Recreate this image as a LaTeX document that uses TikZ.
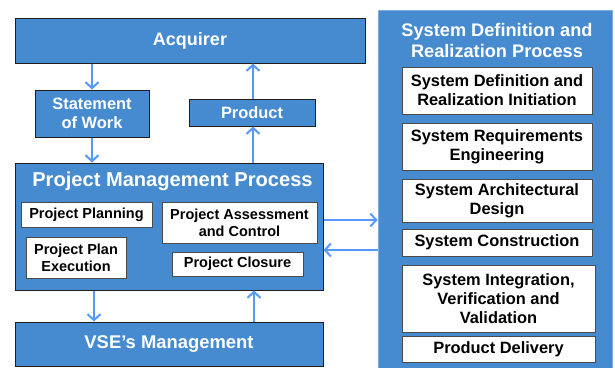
\documentclass[tikz,border=0pt]{standalone}
\usepackage{fontspec}
\setmainfont{Liberation Sans}
\usetikzlibrary{arrows.meta}
\definecolor{boxblue}{RGB}{70,139,208}
\definecolor{arrblue}{RGB}{85,153,255}
\definecolor{edgedark}{RGB}{30,30,30}
\tikzset{
  bluebox/.style={draw=edgedark, line width=1pt, fill=boxblue, text=white, inner sep=0pt, align=center, font=\bfseries\fontsize{18}{20.5}\selectfont},
  midbox/.style={bluebox, font=\bfseries\fontsize{16.4}{19}\selectfont},
  whitebox/.style={draw=edgedark!80, line width=0.8pt, fill=white, text=black, inner sep=0pt, align=center, font=\bfseries\fontsize{16.4}{18.8}\selectfont},
  smallwhite/.style={whitebox, font=\bfseries\fontsize{14.5}{17}\selectfont},
  arr/.style={draw=arrblue, line width=2pt, -{Straight Barb[length=6pt,width=13pt]}},
}
\begin{document}
\begin{tikzpicture}[x=1pt,y=-1pt]
\useasboundingbox (0,0) rectangle (615,367);
% system box
\begin{scope}
\clip (0,0) rectangle (615,367);
\node[fill=boxblue, draw=boxblue!70!white, line width=0.6pt, minimum width=234pt, minimum height=362pt, inner sep=0pt] (sys) at (495,191) {};
\end{scope}
\node[text=white, align=center, font=\bfseries\fontsize{18.2}{21}\selectfont] (systitle) at (497,40) {System Definition and\\Realization Process};
\node[whitebox, minimum width=190pt, minimum height=47pt] (sdri) at (497,90.5) {System Definition and\\Realization Initiation};
\node[whitebox, minimum width=190pt, minimum height=47pt] (sre) at (497,146.5) {System Requirements\\Engineering};
\node[whitebox, minimum width=190pt, minimum height=43pt] (sad) at (497,200.5) {System Architectural\\Design};
\node[whitebox, minimum width=190pt, minimum height=27pt] (sc) at (497,242.5) {System Construction};
\node[whitebox, minimum width=193pt, minimum height=67pt, font=\bfseries\fontsize{16.4}{19.3}\selectfont] (sivv) at (498.5,298.5) {System Integration,\\Verification and\\Validation};
\node[whitebox, minimum width=193pt, minimum height=26pt] (pd) at (498.5,349) {Product Delivery};

% left side
\node[bluebox, minimum width=350pt, minimum height=45pt] (acq) at (190,40.5) {Acquirer};
\node[midbox, minimum width=114pt, minimum height=47pt] (sow) at (92,113.5) {Statement\\of Work};
\node[midbox, minimum width=126pt, minimum height=27pt] (prod) at (252,112.5) {Product};
\node[bluebox, minimum width=308pt, minimum height=127pt] (pmp) at (169,226.5) {};
\node[text=white, font=\bfseries\fontsize{20.1}{22}\selectfont, inner sep=0pt] (pmptitle) at (172.5,181) {Project Management Process};
\node[smallwhite, minimum width=131pt, minimum height=25pt] (pp) at (86.5,214.5) {Project Planning};
\node[smallwhite, minimum width=100pt, minimum height=41pt] (ppe) at (76,257.5) {Project Plan\\Execution};
\node[smallwhite, minimum width=155pt, minimum height=41pt] (pac) at (239.5,222.5) {Project Assessment\\and Control};
\node[smallwhite, minimum width=131pt, minimum height=24pt] (pc) at (237.5,264) {Project Closure};
\node[bluebox, minimum width=308pt, minimum height=44pt, font=\bfseries\fontsize{18.4}{20.5}\selectfont] (vse) at (169,344) {VSE’s Management};

% connectors
\coordinate (a1) at (92,0);
\coordinate (a2) at (253,0);
\coordinate (a3) at (94,0);
\coordinate (a4) at (254,0);
\coordinate (h1) at (0,220);
\coordinate (h2) at (0,250);
\draw[arr] (acq.south -| a1) -- (sow.north -| a1);
\draw[arr] (sow.south -| a1) -- (pmp.north -| a1);
\draw[arr] (pmp.north -| a2) -- (prod.south -| a2);
\draw[arr] (prod.north -| a2) -- (acq.south -| a2);
\draw[arr] (pmp.south -| a3) -- (vse.north -| a3);
\draw[arr] (vse.north -| a4) -- (pmp.south -| a4);
\draw[arr] (pmp.east |- h1) -- (sys.west |- h1);
\draw[arr] (sys.west |- h2) -- (pmp.east |- h2);
\end{tikzpicture}
\end{document}
